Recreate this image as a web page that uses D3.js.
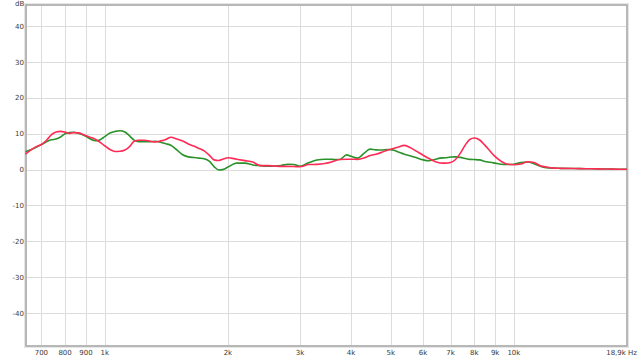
<!DOCTYPE html>
<html>
<head>
<meta charset="utf-8">
<title>Frequency response</title>
<style type="text/css">
	body { margin: 0; background: #fff; }
	svg { display: block; font-family: "DejaVu Sans", sans-serif; }
	.grid line { stroke: #dcdcdc; stroke-width: 1; shape-rendering: crispEdges; }
	.lbl { font-size: 7px; fill: #3a3a3a; }
</style>
<script src="https://cdn.jsdelivr.net/npm/d3@7/dist/d3.min.js"></script>
</head>
<body>
<div id="chart"></div>
<script type="text/javascript">
// frequencies (Hz)
var freqs = [640, 660, 680, 700, 720, 740, 760, 780, 800, 820, 840, 860, 880, 900, 920, 940, 960, 980,
	1000, 1030, 1060, 1090, 1120, 1150, 1180, 1210, 1250, 1290, 1330, 1370, 1410, 1450, 1500, 1550,
	1600, 1650, 1700, 1750, 1800, 1850, 1900, 1950, 2000, 2100, 2200, 2300, 2400, 2500, 2600, 2700,
	2800, 2900, 3000, 3150, 3300, 3450, 3600, 3750, 3900, 4000, 4150, 4300, 4450, 4600, 4750, 4900,
	5050, 5200, 5400, 5600, 5800, 6000, 6200, 6400, 6600, 6800, 7000, 7200, 7400, 7600, 7800, 8000,
	8250, 8500, 8750, 9000, 9300, 9600, 10000, 10400, 10800, 11200, 11600, 12000, 12500, 13000,
	14000, 15000, 16000, 17000, 18000, 18900];

// red trace (dB)
var redDb = [4.3, 5.5, 6.4, 7.0, 8.1, 9.7, 10.5, 10.65, 10.45, 10.1, 10.3, 10.25, 9.95, 9.45, 9.0, 8.7, 8.1, 7.4,
	6.65, 5.6, 5.05, 5.1, 5.45, 6.4, 7.9, 8.2, 8.2, 7.9, 7.7, 8.0, 8.4, 9.0, 8.55, 7.95,
	7.15, 6.55, 5.9, 5.2, 4.05, 2.7, 2.55, 2.95, 3.3, 2.9, 2.5, 2.1, 1.1, 1.1, 1.0, 0.9,
	0.9, 0.85, 0.8, 1.4, 1.45, 1.7, 2.2, 2.8, 2.9, 2.9, 2.85, 3.2, 3.9, 4.3, 4.8, 5.4,
	5.8, 6.2, 6.75, 6.05, 5.0, 4.0, 3.1, 2.3, 1.85, 1.8, 2.0, 2.8, 4.6, 6.8, 8.4, 8.8,
	8.25, 6.75, 5.1, 3.6, 2.35, 1.55, 1.35, 1.55, 2.2, 1.95, 1.1, 0.7, 0.4, 0.35,
	0.3, 0.25, 0.2, 0.15, 0.1, 0.1];

// green trace (dB)
var greenDb = [5.0, 5.55, 6.2, 6.95, 7.75, 8.3, 8.5, 9.1, 10.0, 10.35, 10.4, 10.15, 9.75, 9.25, 8.6, 8.15, 8.05, 8.5,
	9.2, 10.2, 10.65, 10.85, 10.5, 9.4, 8.2, 7.8, 7.8, 7.8, 7.9, 7.6, 7.2, 6.8, 5.5, 4.15,
	3.55, 3.35, 3.2, 3.0, 2.35, 0.85, -0.1, 0.05, 0.7, 1.8, 1.8, 1.3, 1.1, 0.95, 1.0, 1.15,
	1.5, 1.4, 0.95, 1.9, 2.65, 2.9, 2.85, 2.8, 4.1, 3.7, 3.2, 4.5, 5.7, 5.5, 5.45, 5.6,
	5.5, 5.0, 4.3, 3.8, 3.25, 2.7, 2.45, 2.8, 3.2, 3.3, 3.5, 3.55, 3.4, 3.1, 2.85, 2.8,
	2.7, 2.25, 2.05, 1.8, 1.5, 1.4, 1.5, 1.95, 2.1, 1.65, 0.95, 0.55, 0.4, 0.35,
	0.3, 0.25, 0.2, 0.15, 0.1, 0.1];

var xTicks = [700, 800, 900, 1000, 2000, 3000, 4000, 5000, 6000, 7000, 8000, 9000, 10000];
var xTickLabels = ["700", "800", "900", "1k", "2k", "3k", "4k", "5k", "6k", "7k", "8k", "9k", "10k"];
var yTicks = [40, 30, 20, 10, 0, -10, -20, -30, -40];
var fMin = 642, fMax = 18900;
var dbMin = -49.2, dbMax = 45.9;

(function(){
	var width = 640, height = 358;
	var left = 26, right = 627, top = 5, bottom = 346;

	var x = d3.scaleLog().domain([fMin, fMax]).range([left, right]);
	var y = d3.scaleLinear().domain([dbMin, dbMax]).range([bottom, top]);

	var svg = d3.select('#chart').append('svg')
			.attr('width', width)
			.attr('height', height);

	var grid = svg.append('g').attr('class', 'grid');
	grid.selectAll('.gx')
			.data(xTicks)
		.enter().append('line')
			.attr('x1', function(d){ return Math.round(x(d)) + 0.5; })
			.attr('x2', function(d){ return Math.round(x(d)) + 0.5; })
			.attr('y1', top)
			.attr('y2', bottom);
	grid.selectAll('.gy')
			.data(yTicks)
		.enter().append('line')
			.attr('x1', left)
			.attr('x2', right)
			.attr('y1', function(d){ return Math.round(y(d)) + 0.5; })
			.attr('y2', function(d){ return Math.round(y(d)) + 0.5; });

	// frame
	svg.append('rect')
			.attr('x', left - 0.5).attr('y', top - 0.5)
			.attr('width', right - left + 1).attr('height', bottom - top + 1)
			.attr('fill', 'none')
			.attr('stroke', '#e6e6e6')
			.attr('stroke-width', 3);
	svg.append('rect')
			.attr('x', left).attr('y', top)
			.attr('width', right - left).attr('height', bottom - top)
			.attr('fill', 'none')
			.attr('stroke', '#a8a8a8')
			.attr('stroke-width', 1.5);

	var line = function(vals){
		return d3.line()
			.x(function(d, i){ return x(freqs[i]); })
			.y(function(d){ return y(d); })
			.curve(d3.curveMonotoneX)(vals);
	};

	svg.append('path')
			.attr('d', line(greenDb))
			.attr('fill', 'none')
			.attr('stroke', '#2a922a')
			.attr('stroke-width', 1.6);
	svg.append('path')
			.attr('d', line(redDb))
			.attr('fill', 'none')
			.attr('stroke', '#ff2a55')
			.attr('stroke-width', 1.6);

	// axis labels
	svg.selectAll('.xl')
			.data(xTicks)
		.enter().append('text')
			.attr('class', 'lbl')
			.attr('x', function(d){ return x(d); })
			.attr('y', 354.5)
			.attr('text-anchor', 'middle')
			.text(function(d, i){ return xTickLabels[i]; });
	svg.append('text')
			.attr('class', 'lbl')
			.attr('x', 637)
			.attr('y', 354.5)
			.attr('text-anchor', 'end')
			.text('18,9k Hz');

	svg.selectAll('.yl')
			.data(yTicks)
		.enter().append('text')
			.attr('class', 'lbl')
			.attr('x', 24)
			.attr('y', function(d){ return y(d) + 2.5; })
			.attr('text-anchor', 'end')
			.text(function(d){ return d; });
	svg.append('text')
			.attr('class', 'lbl')
			.attr('x', 15)
			.attr('y', 6)
			.text('dB');
})();
</script>
</body>
</html>
